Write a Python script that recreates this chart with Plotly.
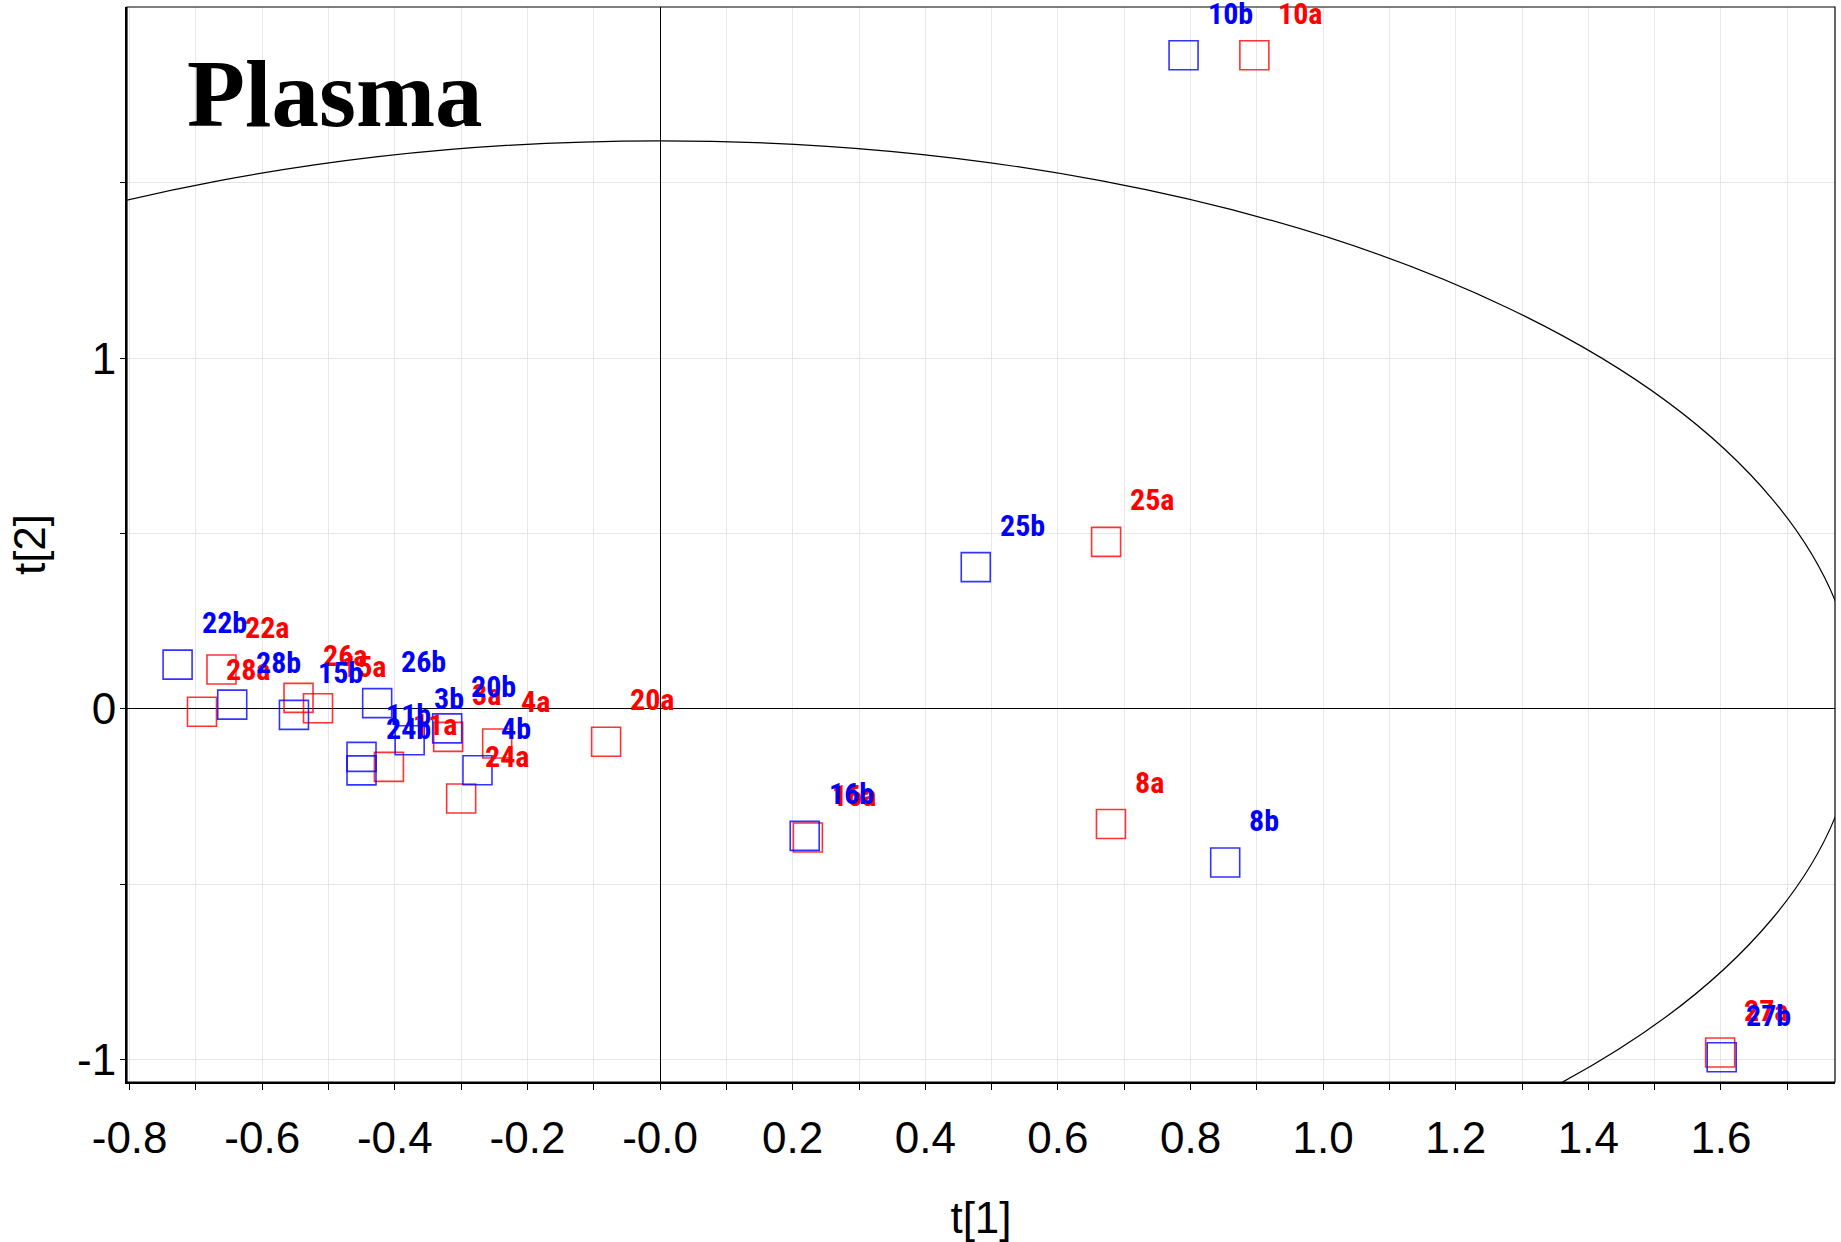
import plotly.graph_objects as go

# ---------------- data ----------------
sample_ids = ["3", "4", "8", "10", "11", "15", "16", "20", "22", "24", "25", "26", "27", "28"]

a_t1 = [-0.3196, -0.2457, 0.6800, 0.8963, -0.4090, -0.5159, 0.2229, -0.0814, -0.6615, -0.3000, 0.6727, -0.5453, 1.5988, -0.6909]
a_t2 = [-0.0799, -0.0987, -0.3284, 1.8640, -0.1654, 0.0020, -0.3669, -0.0936, 0.1124, -0.2556, 0.4763, 0.0314, -0.9797, -0.0080]

b_t1 = [-0.3777, -0.2754, 0.8523, 0.7895, -0.4503, -0.5522, 0.2181, -0.3211, -0.7277, -0.4503, 0.4761, -0.4267, 1.6011, -0.6453]
b_t2 = [-0.0893, -0.1748, -0.4382, 1.8640, -0.1369, -0.0171, -0.3622, -0.0556, 0.1261, -0.1754, 0.4042, 0.0163, -0.9934, 0.0120]

a_labels = [s + "a" for s in sample_ids]
b_labels = [s + "b" for s in sample_ids]

x_tickvals = [-0.8, -0.7, -0.6, -0.5, -0.4, -0.3, -0.2, -0.1, 0.0, 0.1, 0.2, 0.3, 0.4, 0.5, 0.6,
              0.7, 0.8, 0.9, 1.0, 1.1, 1.2, 1.3, 1.4, 1.5, 1.6, 1.7]
x_ticktext = ["-0.8", "", "-0.6", "", "-0.4", "", "-0.2", "", "-0.0", "", "0.2", "", "0.4", "", "0.6",
              "", "0.8", "", "1.0", "", "1.2", "", "1.4", "", "1.6", ""]
y_tickvals = [-1.0, -0.5, 0.0, 0.5, 1.0, 1.5]
y_ticktext = ["-1", "", "0", "", "1", ""]

# Hotelling T2 ellipse semi-axes (t[1], t[2])
ellipse_a = 1.805
ellipse_b = 1.62

RED = "rgb(255,0,0)"
BLUE = "rgb(0,0,255)"
LABEL_FONT = "Liberation Sans Narrow, Arial Narrow, Roboto Condensed, DejaVu Sans Condensed, Arial, sans-serif"
AXIS_FONT = "Liberation Sans, Arial, Helvetica, sans-serif"

fig = go.Figure()

fig.add_trace(go.Scatter(
    x=a_t1, y=a_t2, mode="markers", name="a",
    marker=dict(symbol="square-open", size=29, color="rgba(255,0,0,0.8)", line=dict(width=1.6)),
    hoverinfo="text", text=a_labels,
))
fig.add_trace(go.Scatter(
    x=b_t1, y=b_t2, mode="markers", name="b",
    marker=dict(symbol="square-open", size=29, color="rgba(0,0,255,0.8)", line=dict(width=1.6)),
    hoverinfo="text", text=b_labels,
))

annotations = []
for xs, ys, labs, col in ((a_t1, a_t2, a_labels, RED), (b_t1, b_t2, b_labels, BLUE)):
    for xv, yv, lab in zip(xs, ys, labs):
        annotations.append(dict(
            x=xv, y=yv, xref="x", yref="y", text="<b>" + lab + "</b>", showarrow=False,
            xanchor="left", yanchor="middle", xshift=22, yshift=42,
            font=dict(family=LABEL_FONT, size=30, color=col),
        ))

annotations.append(dict(
    x=0.034, y=0.919, xref="paper", yref="paper", text="<b>Plasma</b>", showarrow=False,
    xanchor="left", yanchor="middle",
    font=dict(family="Liberation Serif, Times New Roman, serif", size=95, color="black"),
))

shapes = [
    dict(type="circle", xref="x", yref="y", x0=-ellipse_a, x1=ellipse_a, y0=-ellipse_b, y1=ellipse_b,
         line=dict(color="black", width=1.2), layer="above"),
    dict(type="rect", xref="paper", yref="paper", x0=0, x1=1, y0=0, y1=1,
         line=dict(color="black", width=1.2), layer="above"),
]

fig.update_layout(
    width=1841, height=1242,
    margin=dict(l=127, r=6, t=7, b=160, autoexpand=False),
    paper_bgcolor="white", plot_bgcolor="white",
    showlegend=False,
    annotations=annotations,
    shapes=shapes,
    xaxis=dict(
        range=[-0.804, 1.772], tickmode="array", tickvals=x_tickvals, ticktext=x_ticktext,
        ticks="outside", ticklen=6, tickwidth=1, tickcolor="black",
        showgrid=True, gridcolor="#e6e6e6", gridwidth=1,
        zeroline=True, zerolinecolor="black", zerolinewidth=1,
        showline=True, linecolor="black", linewidth=2,
        tickfont=dict(family=AXIS_FONT, size=44, color="black"),
        ticklabelstandoff=10, automargin=False,
        title=dict(text="t[1]", font=dict(family=AXIS_FONT, size=44, color="black"), standoff=43),
    ),
    yaxis=dict(
        range=[-1.064, 2.0015], tickmode="array", tickvals=y_tickvals, ticktext=y_ticktext,
        ticks="outside", ticklen=5, tickwidth=1, tickcolor="black",
        showgrid=True, gridcolor="#e6e6e6", gridwidth=1,
        zeroline=True, zerolinecolor="black", zerolinewidth=1,
        showline=True, linecolor="black", linewidth=2,
        tickfont=dict(family=AXIS_FONT, size=44, color="black"),
        ticklabelstandoff=-5, automargin=False,
        title=dict(text="t[2]", font=dict(family=AXIS_FONT, size=44, color="black"), standoff=18),
    ),
)

fig.write_html("out.html")
